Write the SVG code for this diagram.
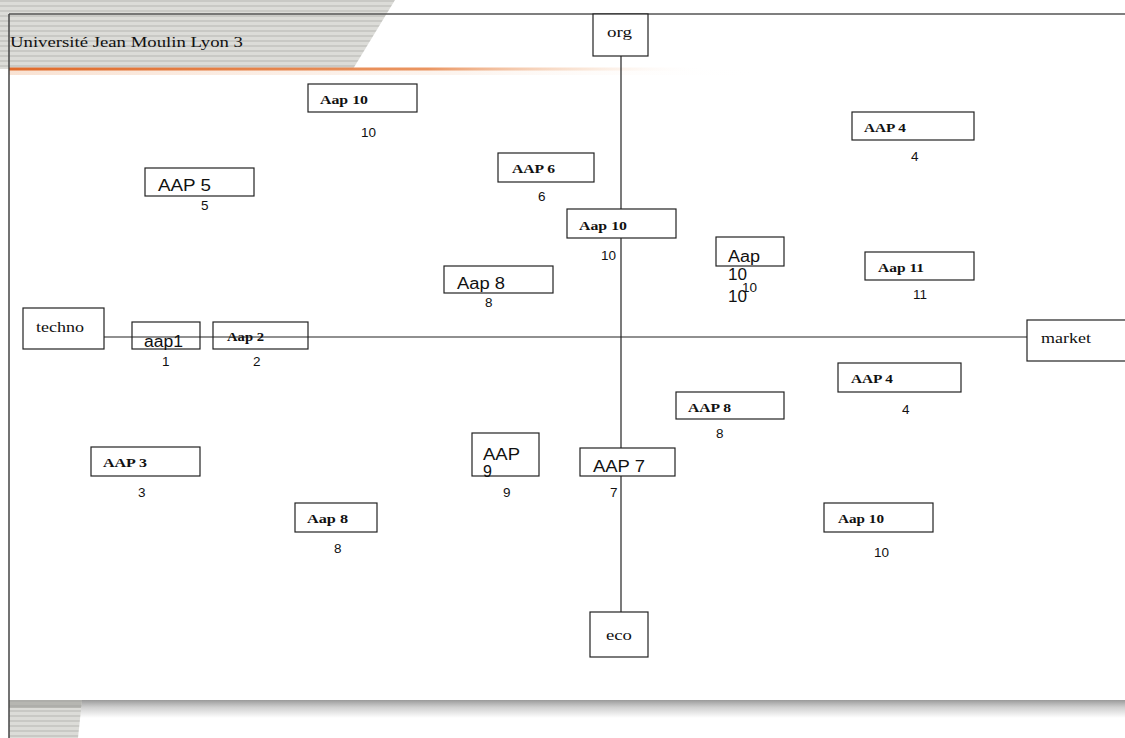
<svg xmlns="http://www.w3.org/2000/svg" width="1125" height="738" viewBox="0 0 1125 738">
<defs>
<pattern id="stripes" width="10" height="5" patternUnits="userSpaceOnUse">
<rect width="10" height="5" fill="#dcdcd8"/>
<rect y="0" width="10" height="2" fill="#c9c9c5"/>
</pattern>
<linearGradient id="orange" x1="0" y1="0" x2="1" y2="0">
<stop offset="0" stop-color="#e06a2a"/>
<stop offset="0.45" stop-color="#e8894f" stop-opacity="0.9"/>
<stop offset="0.62" stop-color="#f3c3a0" stop-opacity="0.4"/>
<stop offset="0.75" stop-color="#ffffff" stop-opacity="0"/>
</linearGradient>
<linearGradient id="glowh" x1="0" y1="0" x2="1" y2="0">
<stop offset="0" stop-color="#f6d6c0" stop-opacity="0.7"/>
<stop offset="0.6" stop-color="#f8e4d6" stop-opacity="0.4"/>
<stop offset="1" stop-color="#ffffff" stop-opacity="0"/>
</linearGradient>
<linearGradient id="shadow" x1="0" y1="0" x2="0" y2="1">
<stop offset="0" stop-color="#9a9a9a"/>
<stop offset="0.4" stop-color="#cfcfcf"/>
<stop offset="1" stop-color="#ffffff"/>
</linearGradient>
<style>
.box{fill:#fff;stroke:#222;stroke-width:1.2}
.open{fill:none;stroke:#222;stroke-width:1.2}
.ser{font-family:"Liberation Serif",serif;font-size:15px;fill:#111}
.bs{font-family:"Liberation Serif",serif;font-size:13px;font-weight:bold;fill:#111}
.ss{font-family:"Liberation Sans",Arial,sans-serif;font-size:16px;fill:#111}
.num{font-family:"Liberation Sans",Arial,sans-serif;font-size:13.5px;fill:#111}
.axis{stroke:#222;stroke-width:1.2;fill:none}
</style>
</defs>
<rect width="1125" height="738" fill="#fff"/>
<!-- header band -->
<polygon points="0,0 395,0 353,69 0,69" fill="url(#stripes)"/>
<rect x="9" y="70" width="760" height="5" fill="url(#glowh)"/>
<rect x="9" y="67.5" width="930" height="3" fill="url(#orange)"/>
<!-- footer -->
<rect x="9" y="700" width="1116" height="18" fill="url(#shadow)"/>
<polygon points="9,700 82,700 78,738 9,738" fill="url(#stripes)"/>
<polygon points="9,700 82,700 81,708 9,708" fill="#9c9c98" opacity="0.6"/>
<!-- frame -->
<line x1="9" y1="14" x2="1125" y2="14" stroke="#555" stroke-width="1.5"/>
<line x1="9" y1="14" x2="9" y2="738" stroke="#444" stroke-width="1.5"/>
<text class="ser" x="10" y="47" textLength="233" lengthAdjust="spacingAndGlyphs">Université Jean Moulin Lyon 3</text>

<g id="connectors">
<line class="axis" x1="621" y1="56" x2="621" y2="612"/>
<line class="axis" x1="104" y1="337" x2="1027" y2="337"/>
</g>

<g id="org"><rect class="box" x="593" y="14" width="55" height="42"/><text class="ser" x="607" y="37" textLength="25" lengthAdjust="spacingAndGlyphs">org</text></g>
<g id="eco"><rect class="box" x="590" y="612" width="58" height="45"/><text class="ser" x="606" y="640" textLength="26" lengthAdjust="spacingAndGlyphs">eco</text></g>
<g id="techno"><rect class="box" x="23" y="308" width="81" height="41"/><text class="ser" x="36" y="332" textLength="48" lengthAdjust="spacingAndGlyphs">techno</text></g>
<g id="market"><rect class="box" x="1027" y="320" width="100" height="41"/><text class="ser" x="1041" y="343" textLength="50" lengthAdjust="spacingAndGlyphs">market</text></g>

<g id="aap1"><rect class="open" x="132" y="322" width="68" height="27"/><text class="ss" x="144" y="347" textLength="39" lengthAdjust="spacingAndGlyphs">aap1</text><text class="num" x="162" y="366">1</text></g>
<g id="aap2"><rect class="open" x="213" y="322" width="95" height="27"/><text class="bs" x="227" y="341" textLength="37" lengthAdjust="spacingAndGlyphs">Aap 2</text><text class="num" x="253" y="366">2</text></g>
<g id="aap10-top"><rect class="box" x="308" y="84" width="109" height="28"/><text class="bs" x="320" y="104" textLength="48" lengthAdjust="spacingAndGlyphs">Aap 10</text><text class="num" x="361" y="137">10</text></g>
<g id="aap5"><rect class="box" x="145" y="168" width="109" height="28"/><text class="ss" x="158" y="191" textLength="53" lengthAdjust="spacingAndGlyphs">AAP 5</text><text class="num" x="201" y="210">5</text></g>
<g id="aap6"><rect class="box" x="498" y="153" width="96" height="29"/><text class="bs" x="512" y="173" textLength="43" lengthAdjust="spacingAndGlyphs">AAP 6</text><text class="num" x="538" y="201">6</text></g>
<g id="aap10-center"><rect class="box" x="567" y="209" width="109" height="29"/><text class="bs" x="579" y="230" textLength="48" lengthAdjust="spacingAndGlyphs">Aap 10</text><text class="num" x="601" y="260">10</text></g>
<g id="aap10-right"><rect class="box" x="716" y="237" width="68" height="29"/><text class="ss" x="728" y="262" textLength="32" lengthAdjust="spacingAndGlyphs">Aap</text><text class="ss" x="728" y="280" textLength="19" lengthAdjust="spacingAndGlyphs">10</text><text class="ss" x="728" y="302" textLength="19" lengthAdjust="spacingAndGlyphs">10</text><text class="num" x="742" y="292">10</text></g>
<g id="aap8-center"><rect class="box" x="444" y="266" width="109" height="27"/><text class="ss" x="457" y="289" textLength="48" lengthAdjust="spacingAndGlyphs">Aap 8</text><text class="num" x="485" y="307">8</text></g>
<g id="aap4-top"><rect class="box" x="852" y="112" width="122" height="28"/><text class="bs" x="864" y="132" textLength="42" lengthAdjust="spacingAndGlyphs">AAP 4</text><text class="num" x="911" y="161">4</text></g>
<g id="aap11"><rect class="box" x="865" y="252" width="109" height="28"/><text class="bs" x="878" y="272" textLength="46" lengthAdjust="spacingAndGlyphs">Aap 11</text><text class="num" x="913" y="299">11</text></g>
<g id="aap4-low"><rect class="box" x="838" y="363" width="123" height="29"/><text class="bs" x="851" y="383" textLength="42" lengthAdjust="spacingAndGlyphs">AAP 4</text><text class="num" x="902" y="414">4</text></g>
<g id="aap10-low"><rect class="box" x="824" y="503" width="109" height="29"/><text class="bs" x="838" y="523" textLength="46" lengthAdjust="spacingAndGlyphs">Aap 10</text><text class="num" x="874" y="557">10</text></g>
<g id="aap8-right"><rect class="box" x="676" y="392" width="108" height="27"/><text class="bs" x="688" y="412" textLength="43" lengthAdjust="spacingAndGlyphs">AAP 8</text><text class="num" x="716" y="438">8</text></g>
<g id="aap9"><rect class="box" x="472" y="433" width="67" height="43"/><text class="ss" x="483" y="460" textLength="37" lengthAdjust="spacingAndGlyphs">AAP</text><text class="ss" x="483" y="477">9</text><text class="num" x="503" y="497">9</text></g>
<g id="aap7"><rect class="box" x="580" y="448" width="95" height="28"/><text class="ss" x="593" y="472" textLength="52" lengthAdjust="spacingAndGlyphs">AAP 7</text><text class="num" x="610" y="497">7</text></g>
<g id="aap3"><rect class="box" x="91" y="447" width="109" height="29"/><text class="bs" x="103" y="467" textLength="44" lengthAdjust="spacingAndGlyphs">AAP 3</text><text class="num" x="138" y="497">3</text></g>
<g id="aap8-low"><rect class="box" x="295" y="503" width="82" height="29"/><text class="bs" x="307" y="523" textLength="41" lengthAdjust="spacingAndGlyphs">Aap 8</text><text class="num" x="334" y="553">8</text></g>
</svg>
